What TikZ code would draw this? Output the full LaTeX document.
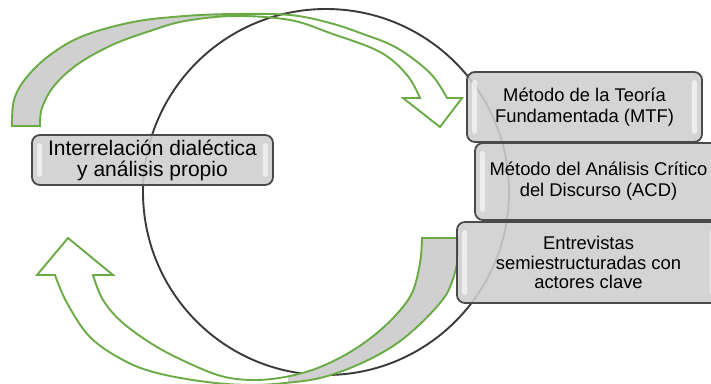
\documentclass[tikz,border=0pt]{standalone}
\usepackage{fontspec}
\setmainfont{Liberation Sans}
\definecolor{arrgreen}{HTML}{6AAB45}
\definecolor{ribbon}{HTML}{D0D0D0}
\definecolor{boxfill}{HTML}{CFCFCF}
\definecolor{boxline}{HTML}{4A4A4A}
\definecolor{ringcol}{HTML}{3A3A3A}
\begin{document}
\begin{tikzpicture}[x=1pt,y=-1pt,
  box/.style={draw=boxline, line width=1.8pt, fill=boxfill, fill opacity=0.88, text opacity=1, rounded corners=8pt, align=center, inner sep=0pt},
  rib/.style={draw=arrgreen, line width=1.9pt, line join=miter},
  ring/.style={draw=ringcol, line width=1.9pt},
  gloss/.style={fill=white, opacity=0.6, rounded corners=2.5pt},
  rtext/.style={font=\fontsize{18.4}{21}\selectfont}
]
\useasboundingbox (0,0) rectangle (711,383);
\clip (0,0) rectangle (711,383);
\fill[white] (0,0) rectangle (711,383);

% ring
\draw[ring] (326,192) circle[radius=183pt];

% top ribbon: gray back face on the left part
\begin{scope}
\clip (0,0) rectangle (255,140);
\fill[ribbon] plot[smooth,tension=0.6] coordinates {(12,126) (14,100) (26,78) (50,55) (83,36) (133,22) (185,16) (235,14) (290,15) (330,23) (363,34) (397,48) (430,73) (447,98)} -- (462,98) -- (440,127) -- (403,98) -- (420,98) -- plot[smooth,tension=0.6] coordinates {(420,98) (407,75) (380,52) (330,33) (290,20) (235,16) (185,21) (150,31) (112,45) (78,64) (54,86) (42,108) (40,126)} -- cycle;
\end{scope}
\draw[rib] plot[smooth,tension=0.6] coordinates {(12,126) (14,100) (26,78) (50,55) (83,36) (133,22) (185,16) (235,14) (290,15) (330,23) (363,34) (397,48) (430,73) (447,98)} -- (462,98) -- (440,127) -- (403,98) -- (420,98) -- plot[smooth,tension=0.6] coordinates {(420,98) (407,75) (380,52) (330,33) (290,20) (235,16) (185,21) (150,31) (112,45) (78,64) (54,86) (42,108) (40,126)} -- cycle;

% bottom ribbon: gray back face on the right part
\begin{scope}
\clip (288,200) rectangle (711,383);
\fill[ribbon] plot[smooth,tension=0.6] coordinates {(458,238) (457,263) (450,287) (440,303) (417,327) (390,348) (355,366) (320,378) (285,383) (250,385) (207,382) (157,373) (123,360) (90,337) (67,303) (55,275)} -- (37,275) -- (68,238) -- (113,275) -- (93,275) -- plot[smooth,tension=0.6] coordinates {(93,275) (103,300) (123,323) (157,347) (195,366) (225,377) (255,380) (285,377) (315,369) (345,355) (372,337) (395,316) (412,293) (420,263) (422,238)} -- cycle;
\end{scope}
\draw[rib] plot[smooth,tension=0.6] coordinates {(458,238) (457,263) (450,287) (440,303) (417,327) (390,348) (355,366) (320,378) (285,383) (250,385) (207,382) (157,373) (123,360) (90,337) (67,303) (55,275)} -- (37,275) -- (68,238) -- (113,275) -- (93,275) -- plot[smooth,tension=0.6] coordinates {(93,275) (103,300) (123,323) (157,347) (195,366) (225,377) (255,380) (285,377) (315,369) (345,355) (372,337) (395,316) (412,293) (420,263) (422,238)} -- cycle;

% boxes
\node[box, minimum width=241pt, minimum height=50pt, font=\fontsize{21}{21}\selectfont] (inter) at (152.5,160) {Interrelación dialéctica\\y análisis propio};
\node[box, rtext, minimum width=235pt, minimum height=70pt] (mtf) at (584.5,107) {Método de la Teoría\\Fundamentada (MTF)};
\node[box, rtext, minimum width=247pt, minimum height=77pt] (acd) at (598.5,181.5) {Método del Análisis Crítico\\del Discurso (ACD)};
\node[box, font=\fontsize{18.4}{19.5}\selectfont, minimum width=263pt, minimum height=81pt] (entr) at (588.5,262.5) {Entrevistas\\semiestructuradas con\\actores clave};

% glossy highlights
\foreach \n in {inter,mtf,acd,entr}{
  \fill[gloss] ([xshift=6pt,yshift=-9pt]\n.north west) rectangle ([xshift=11pt,yshift=9pt]\n.south west);
  \fill[gloss] ([xshift=-11pt,yshift=-9pt]\n.north east) rectangle ([xshift=-6pt,yshift=9pt]\n.south east);
}
\end{tikzpicture}
\end{document}
